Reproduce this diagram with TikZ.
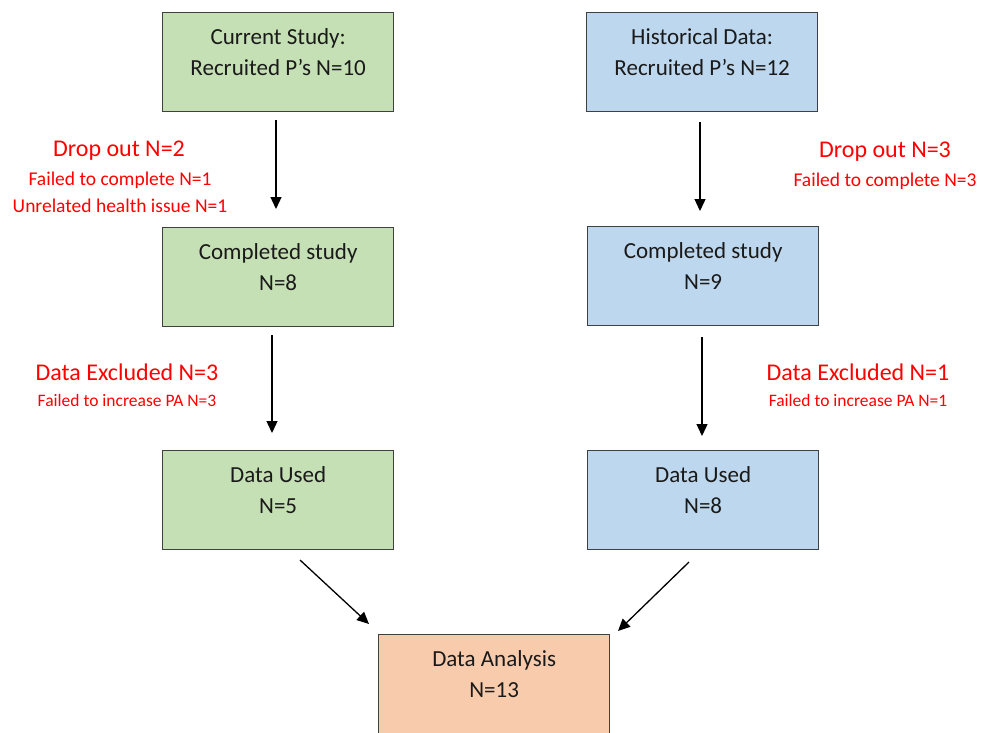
\documentclass[tikz,border=0pt]{standalone}
\usepackage{fontspec}
\setmainfont{Carlito}
\usetikzlibrary{arrows.meta}
\definecolor{gfill}{HTML}{C5E0B4}
\definecolor{bfill}{HTML}{BDD7EE}
\definecolor{ofill}{HTML}{F8CBAD}
\definecolor{edgecol}{HTML}{404040}
\definecolor{redtxt}{HTML}{FF0000}
\definecolor{txtcol}{HTML}{1A1A1A}
\begin{document}
\begin{tikzpicture}[x=1pt,y=-1pt,
  box/.style={draw=edgecol, line width=1.3pt, minimum width=231pt, minimum height=99pt, inner sep=0pt, anchor=north west},
  boxtext/.style={align=center, font=\fontsize{23}{31}\selectfont, text=txtcol, inner sep=0pt},
  bigred/.style={text=redtxt, font=\fontsize{24}{28}\selectfont, inner sep=0pt},
  smallred/.style={text=redtxt, font=\fontsize{19.5}{26}\selectfont, inner sep=0pt},
  tinyred/.style={text=redtxt, font=\fontsize{17.5}{22}\selectfont, inner sep=0pt},
  arr/.style={-{Triangle[length=12pt,width=11pt]}, line width=1.3pt, draw=black}]
\useasboundingbox (0,0) rectangle (981,732);
\clip (0,0) rectangle (981,732);
% boxes
\node[box, fill=gfill] (cs) at (162,12) {};
\node[box, fill=bfill] (hd) at (586,12) {};
\node[box, fill=gfill] (cl) at (162,227) {};
\node[box, fill=bfill] (cr) at (587,226) {};
\node[box, fill=gfill] (ul) at (162,450) {};
\node[box, fill=bfill] (ur) at (587,450) {};
\node[box, fill=ofill] (da) at (378,634) {};
% box texts
\node[boxtext] (cst) at (cs.center |- 0,52) {Current Study:\\Recruited P’s N=10};
\node[boxtext] (hdt) at (hd.center |- 0,52) {Historical Data:\\Recruited P’s N=12};
\node[boxtext] (clt) at (cl.center |- 0,267) {Completed study\\N=8};
\node[boxtext] (crt) at (cr.center |- 0,266) {Completed study\\N=9};
\node[boxtext] (ult) at (ul.center |- 0,490) {Data Used\\N=5};
\node[boxtext] (urt) at (ur.center |- 0,490) {Data Used\\N=8};
\node[boxtext] (dat) at (da.center |- 0,674) {Data Analysis\\N=13};
% red labels
\node[bigred] (do1) at (119,151) {Drop out N=2};
\node[smallred] (do1a) at (120,180) {Failed to complete N=1};
\node[smallred] (do1b) at (120,206) {Unrelated health issue N=1};
\node[bigred] (do2) at (885,152) {Drop out N=3};
\node[smallred] (do2a) at (885,181) {Failed to complete N=3};
\node[bigred] (de1) at (127,372) {Data Excluded N=3};
\node[tinyred] (de1a) at (127,400) {Failed to increase PA N=3};
\node[bigred] (de2) at (858,372) {Data Excluded N=1};
\node[tinyred] (de2a) at (858,400) {Failed to increase PA N=1};
% arrow endpoints
\coordinate (a1s) at (276,120); \coordinate (a1e) at (276,209);
\coordinate (a2s) at (700,122); \coordinate (a2e) at (700,211);
\coordinate (a3s) at (272,335); \coordinate (a3e) at (272,433);
\coordinate (a4s) at (702,337); \coordinate (a4e) at (702,436);
\coordinate (a5s) at (300,560); \coordinate (a5e) at (369,624);
\coordinate (a6s) at (689,562); \coordinate (a6e) at (618,631);
\draw[arr] (a1s) -- (a1e);
\draw[arr] (a2s) -- (a2e);
\draw[arr] (a3s) -- (a3e);
\draw[arr] (a4s) -- (a4e);
\draw[arr] (a5s) -- (a5e);
\draw[arr] (a6s) -- (a6e);
\end{tikzpicture}
\end{document}
